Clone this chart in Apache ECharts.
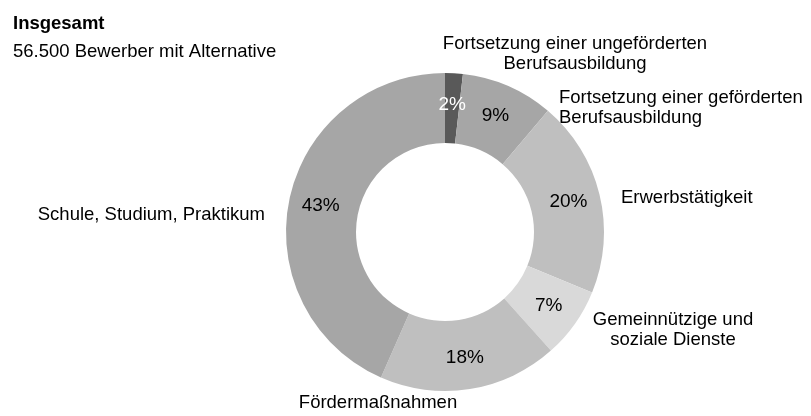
<!DOCTYPE html>
<html>
<head>
<meta charset="utf-8">
<script src="https://cdn.jsdelivr.net/npm/echarts@6/dist/echarts.min.js"></script>
<style>
html,body{margin:0;padding:0;background:#fff;}
#chart{width:811px;height:416px;}
</style>
</head>
<body>
<div id="chart"></div>
<script>
// Data
const titleText = 'Insgesamt';
const subtitleText = '56.500 Bewerber mit Alternative';
const categories = [
  'Fortsetzung einer ungeförderten\nBerufsausbildung',
  'Fortsetzung einer geförderten\nBerufsausbildung',
  'Erwerbstätigkeit',
  'Gemeinnützige und\nsoziale Dienste',
  'Fördermaßnahmen',
  'Schule, Studium, Praktikum'
];
const shares = [1.8, 9.4, 20.0, 7.2, 18.2, 43.4];

// Styles
const sliceColors = ['#595959', '#a6a6a6', '#bfbfbf', '#d9d9d9', '#bfbfbf', '#a6a6a6'];
const pctColors = ['#ffffff', '#000000', '#000000', '#000000', '#000000', '#000000'];
const labelPlacement = [
  {x: 575, y: 54, align: 'center'},
  {x: 559, y: 108, align: 'left'},
  {x: 621, y: 198, align: 'left'},
  {x: 673, y: 330, align: 'center'},
  {x: 378, y: 403, align: 'center'},
  {x: 265, y: 215, align: 'right'}
];
const FONT = '"Liberation Sans", Arial, sans-serif';

const chart = echarts.init(document.getElementById('chart'), null, {renderer: 'canvas'});
const innerData = categories.map((c, i) => ({
  name: c, value: shares[i],
  itemStyle: {color: sliceColors[i]},
  label: {color: pctColors[i]}
}));
const outerData = categories.map((c, i) => ({name: c, value: shares[i]}));

chart.setOption({
  animation: false,
  backgroundColor: '#ffffff',
  title: {
    text: titleText,
    subtext: subtitleText,
    left: 8, top: 9,
    itemGap: 9,
    textStyle: {fontFamily: FONT, fontSize: 18.5, fontWeight: 'bold', color: '#000'},
    subtextStyle: {fontFamily: FONT, fontSize: 18.5, color: '#000'}
  },
  series: [
    {
      type: 'pie',
      center: [445, 232],
      radius: [89, 159],
      startAngle: 90,
      clockwise: true,
      silent: true,
      data: innerData,
      itemStyle: {borderWidth: 0},
      label: {
        show: true,
        position: 'inside',
        fontFamily: FONT,
        fontSize: 19,
        formatter: p => Math.round(p.value) + '%'
      },
      labelLine: {show: false}
    },
    {
      type: 'pie',
      center: [445, 232],
      radius: [89, 159],
      startAngle: 90,
      clockwise: true,
      silent: true,
      z: 1,
      data: outerData,
      itemStyle: {color: 'rgba(0,0,0,0)'},
      label: {
        show: true,
        position: 'outside',
        alignTo: 'none',
        overflow: 'none',
        fontFamily: FONT,
        fontSize: 18.5,
        lineHeight: 20,
        color: '#000',
        formatter: '{b}'
      },
      labelLine: {show: false},
      labelLayout: p => {
        const l = labelPlacement[p.dataIndex];
        return {x: l.x, y: l.y, align: l.align, verticalAlign: 'middle'};
      }
    }
  ]
});
</script>
</body>
</html>
